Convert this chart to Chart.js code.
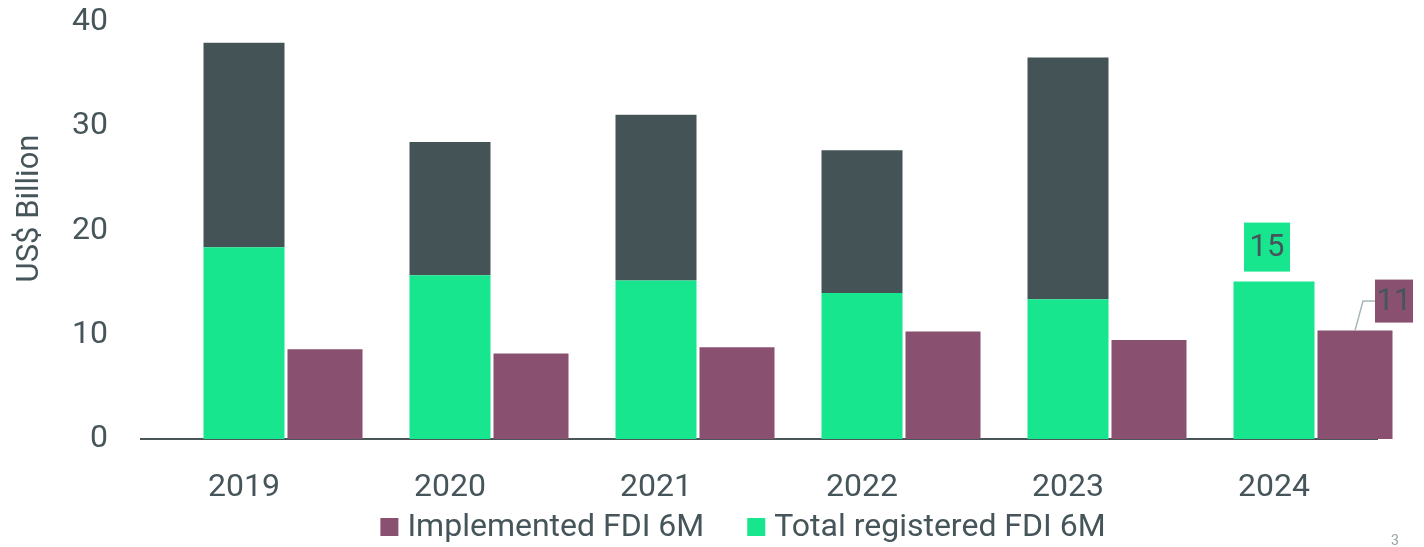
<!DOCTYPE html>
<html>
<head>
<meta charset="utf-8">
<script src="https://cdn.jsdelivr.net/npm/chart.js@4.4.1/dist/chart.umd.min.js"></script>
<style>
  html, body { margin: 0; padding: 0; background: #ffffff; }
  #wrap { position: relative; width: 1424px; height: 547px; }
  #page { position: absolute; left: 1391px; top: 532px; font: 14px Roboto, sans-serif; color: #9aa3a6; }
</style>
</head>
<body>
<div id="wrap">
  <canvas id="c" width="1424" height="547"></canvas>
  <div id="page">3</div>
</div>
<script>
const years = ['2019', '2020', '2021', '2022', '2023', '2024'];
const registered6M = [18.4, 15.7, 15.2, 14.0, 13.4, 15.1];
const registeredRestOfYear = [19.6, 12.8, 15.9, 13.7, 23.2, null];
const implemented6M = [8.6, 8.2, 8.8, 10.3, 9.5, 10.4];
const spacer = [0, 0, 0, 0, 0, 0];
const calloutLabels = { registered: '15', implemented: '11' };
const legendOrder = ['Implemented FDI 6M', 'Total registered FDI 6M'];
const yTitle = 'US$ Billion';

const TEXT = '#46555a';
const GREEN = '#17e68f';
const GREY = '#445356';
const PURPLE = '#8a5070';
const FONT = 'Roboto, "Open Sans", sans-serif';

const calloutPlugin = {
  id: 'callouts',
  afterDatasetsDraw(chart) {
    const ctx = chart.ctx;
    const last = years.length - 1;
    const g = chart.getDatasetMeta(1).data[last];
    const p = chart.getDatasetMeta(3).data[last];
    ctx.save();
    ctx.font = '31px ' + FONT;
    ctx.textAlign = 'center';
    ctx.textBaseline = 'middle';
    const gw = 46, gh = 49;
    const gx = g.x - 7 - gw / 2, gy = g.y - 10 - gh;
    ctx.fillStyle = GREEN;
    ctx.fillRect(gx, gy, gw, gh);
    ctx.fillStyle = TEXT;
    ctx.fillText(calloutLabels.registered, gx + gw / 2, gy + gh / 2 + 1);
    const pw = 38, ph = 43;
    const px = p.x + 20, py = p.y - 51;
    ctx.strokeStyle = '#a9b5b8';
    ctx.lineWidth = 1.5;
    ctx.beginPath();
    ctx.moveTo(p.x, p.y);
    ctx.lineTo(p.x + 8, py + ph / 2);
    ctx.lineTo(px, py + ph / 2);
    ctx.stroke();
    ctx.fillStyle = PURPLE;
    ctx.fillRect(px, py, pw, ph);
    ctx.fillStyle = TEXT;
    ctx.fillText(calloutLabels.implemented, px + pw / 2, py + ph / 2 + 1);
    ctx.restore();
  }
};

const axisTitlePlugin = {
  id: 'yTitle',
  afterDraw(chart) {
    const ctx = chart.ctx;
    const area = chart.chartArea;
    ctx.save();
    ctx.font = '31px ' + FONT;
    ctx.fillStyle = TEXT;
    ctx.textAlign = 'center';
    ctx.textBaseline = 'middle';
    ctx.translate(30, (area.top + area.bottom) / 2 - 22);
    ctx.rotate(-Math.PI / 2);
    ctx.fillText(yTitle, 0, 0);
    ctx.restore();
  }
};

const legendPlugin = {
  id: 'bottomLegend',
  afterDraw(chart) {
    const ctx = chart.ctx;
    const items = legendOrder.map(name => {
      const ds = chart.data.datasets.find(d => d.label === name);
      return { text: name, color: ds.backgroundColor };
    });
    ctx.save();
    ctx.font = '32px ' + FONT;
    ctx.textBaseline = 'middle';
    ctx.textAlign = 'left';
    const box = 18, boxGap = 9, itemGap = 43;
    const widths = items.map(it => box + boxGap + ctx.measureText(it.text).width);
    const total = widths.reduce((a, b) => a + b, 0) + itemGap * (items.length - 1);
    let x = 743 - total / 2;
    const cy = 527;
    items.forEach((it, i) => {
      ctx.fillStyle = it.color;
      ctx.fillRect(x, cy - box / 2, box, box);
      ctx.fillStyle = TEXT;
      ctx.fillText(it.text, x + box + boxGap, cy + 1);
      x += widths[i] + itemGap;
    });
    ctx.restore();
  }
};

new Chart(document.getElementById('c'), {
  type: 'bar',
  data: {
    labels: years,
    datasets: [
      { label: 'spacer', data: spacer, stack: 'pad', backgroundColor: 'rgba(0,0,0,0)', borderWidth: 0 },
      { label: 'Total registered FDI 6M', data: registered6M, stack: 'reg', backgroundColor: GREEN },
      { label: 'Total registered FDI full year', data: registeredRestOfYear, stack: 'reg', backgroundColor: GREY },
      { label: 'Implemented FDI 6M', data: implemented6M, stack: 'impl', backgroundColor: PURPLE, maxBarThickness: 75 }
    ]
  },
  options: {
    responsive: false,
    animation: false,
    events: [],
    clip: false,
    categoryPercentage: 243 / 206,
    barPercentage: 1,
    layout: { padding: { left: 0, right: 47, top: 22, bottom: 0 } },
    plugins: {
      tooltip: { enabled: false },
      legend: { display: false }
    },
    scales: {
      x: {
        stacked: true,
        afterFit: (s) => { s.height = 108; },
        grid: { display: false, drawTicks: true, tickLength: 30 },
        border: { display: true, color: '#4a5558', width: 2 },
        ticks: { color: TEXT, font: { family: FONT, size: 32 }, padding: 0 }
      },
      y: {
        stacked: true,
        min: 0,
        max: 40,
        afterFit: (s) => { s.width = 141; },
        grid: { display: false, drawTicks: true, tickLength: 33 },
        border: { display: false },
        ticks: { stepSize: 10, color: TEXT, font: { family: FONT, size: 32 }, padding: 0 }
      }
    }
  },
  plugins: [calloutPlugin, axisTitlePlugin, legendPlugin]
});
</script>
</body>
</html>
